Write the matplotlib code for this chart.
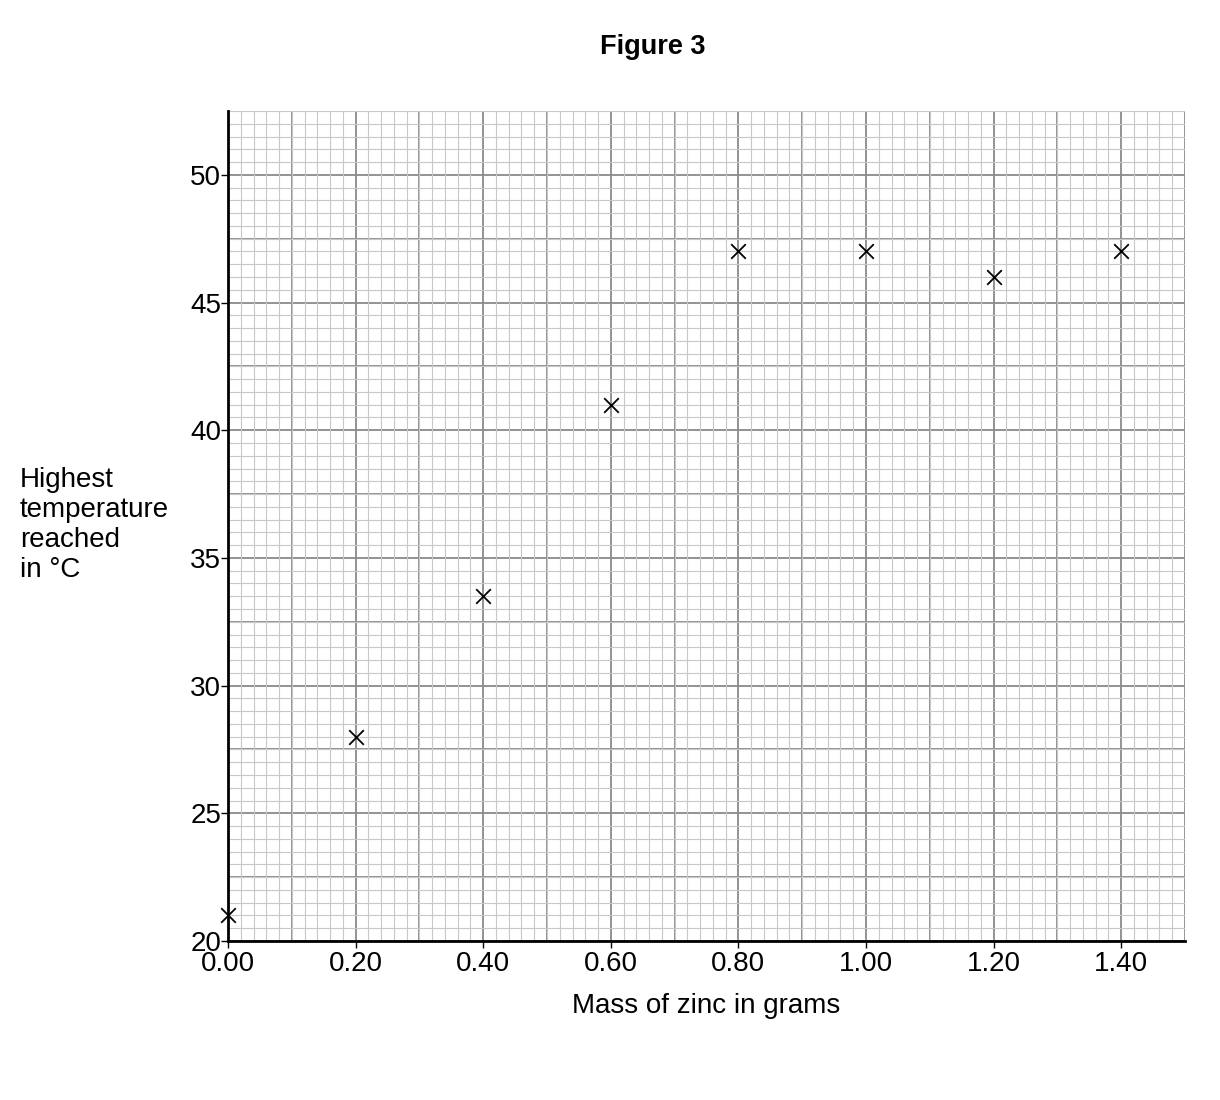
import matplotlib.pyplot as plt
import numpy as np

plt.rcParams['font.family'] = ['Liberation Sans', 'DejaVu Sans']

mass = [0.00, 0.20, 0.40, 0.60, 0.80, 1.00, 1.20, 1.40]
temp = [21, 28, 33.5, 41, 47, 47, 46, 47]
xticks = [0.0, 0.2, 0.4, 0.6, 0.8, 1.0, 1.2, 1.4]
yticks = [20, 25, 30, 35, 40, 45, 50]

fig = plt.figure(figsize=(12.2, 11), dpi=100)
ax = fig.add_axes([228/1220, 1-941/1100, (1185-228)/1220, (941-111)/1100])

ax.set_xlim(0, 1.5)
ax.set_ylim(20, 52.5)

# graph paper grid
ax.set_xticks(np.arange(0, 1.5001, 0.02), minor=True)
ax.set_yticks(np.arange(20, 52.501, 0.5), minor=True)
ax.grid(which='minor', color='#c8c8c8', linewidth=0.8)
for gx in np.arange(0, 1.5001, 0.1):
    ax.axvline(gx, color='#8a8a8a', linewidth=1.3, zorder=1)
for gy in np.arange(20, 52.501, 2.5):
    ax.axhline(gy, color='#8a8a8a', linewidth=1.3, zorder=1)
ax.tick_params(which='minor', length=0)

ax.set_xticks(xticks)
ax.set_xticklabels(['%.2f' % v for v in xticks])
ax.set_yticks(yticks)
ax.tick_params(which='major', labelsize=20, length=5, width=1, pad=1)
ax.tick_params(axis='x', pad=2)
ax.tick_params(axis='y', pad=0)

for s in ['top', 'right']:
    ax.spines[s].set_visible(False)
for s in ['left', 'bottom']:
    ax.spines[s].set_linewidth(2)
    ax.spines[s].set_zorder(5)

ax.scatter(mass, temp, marker='x', s=110, color='black', linewidths=1.3, zorder=6, clip_on=False)

ax.set_xlabel('Mass of zinc in grams', fontsize=20, labelpad=12)
fig.text(20/1220, 1-525/1100, 'Highest\ntemperature\nreached\nin \u00b0C', fontsize=20,
         ha='left', va='center', linespacing=1.2)
fig.text(653/1220, 1-47/1100, 'Figure 3', fontsize=19.5, fontweight='bold', ha='center', va='center')

fig.savefig('out.png', dpi=100)
